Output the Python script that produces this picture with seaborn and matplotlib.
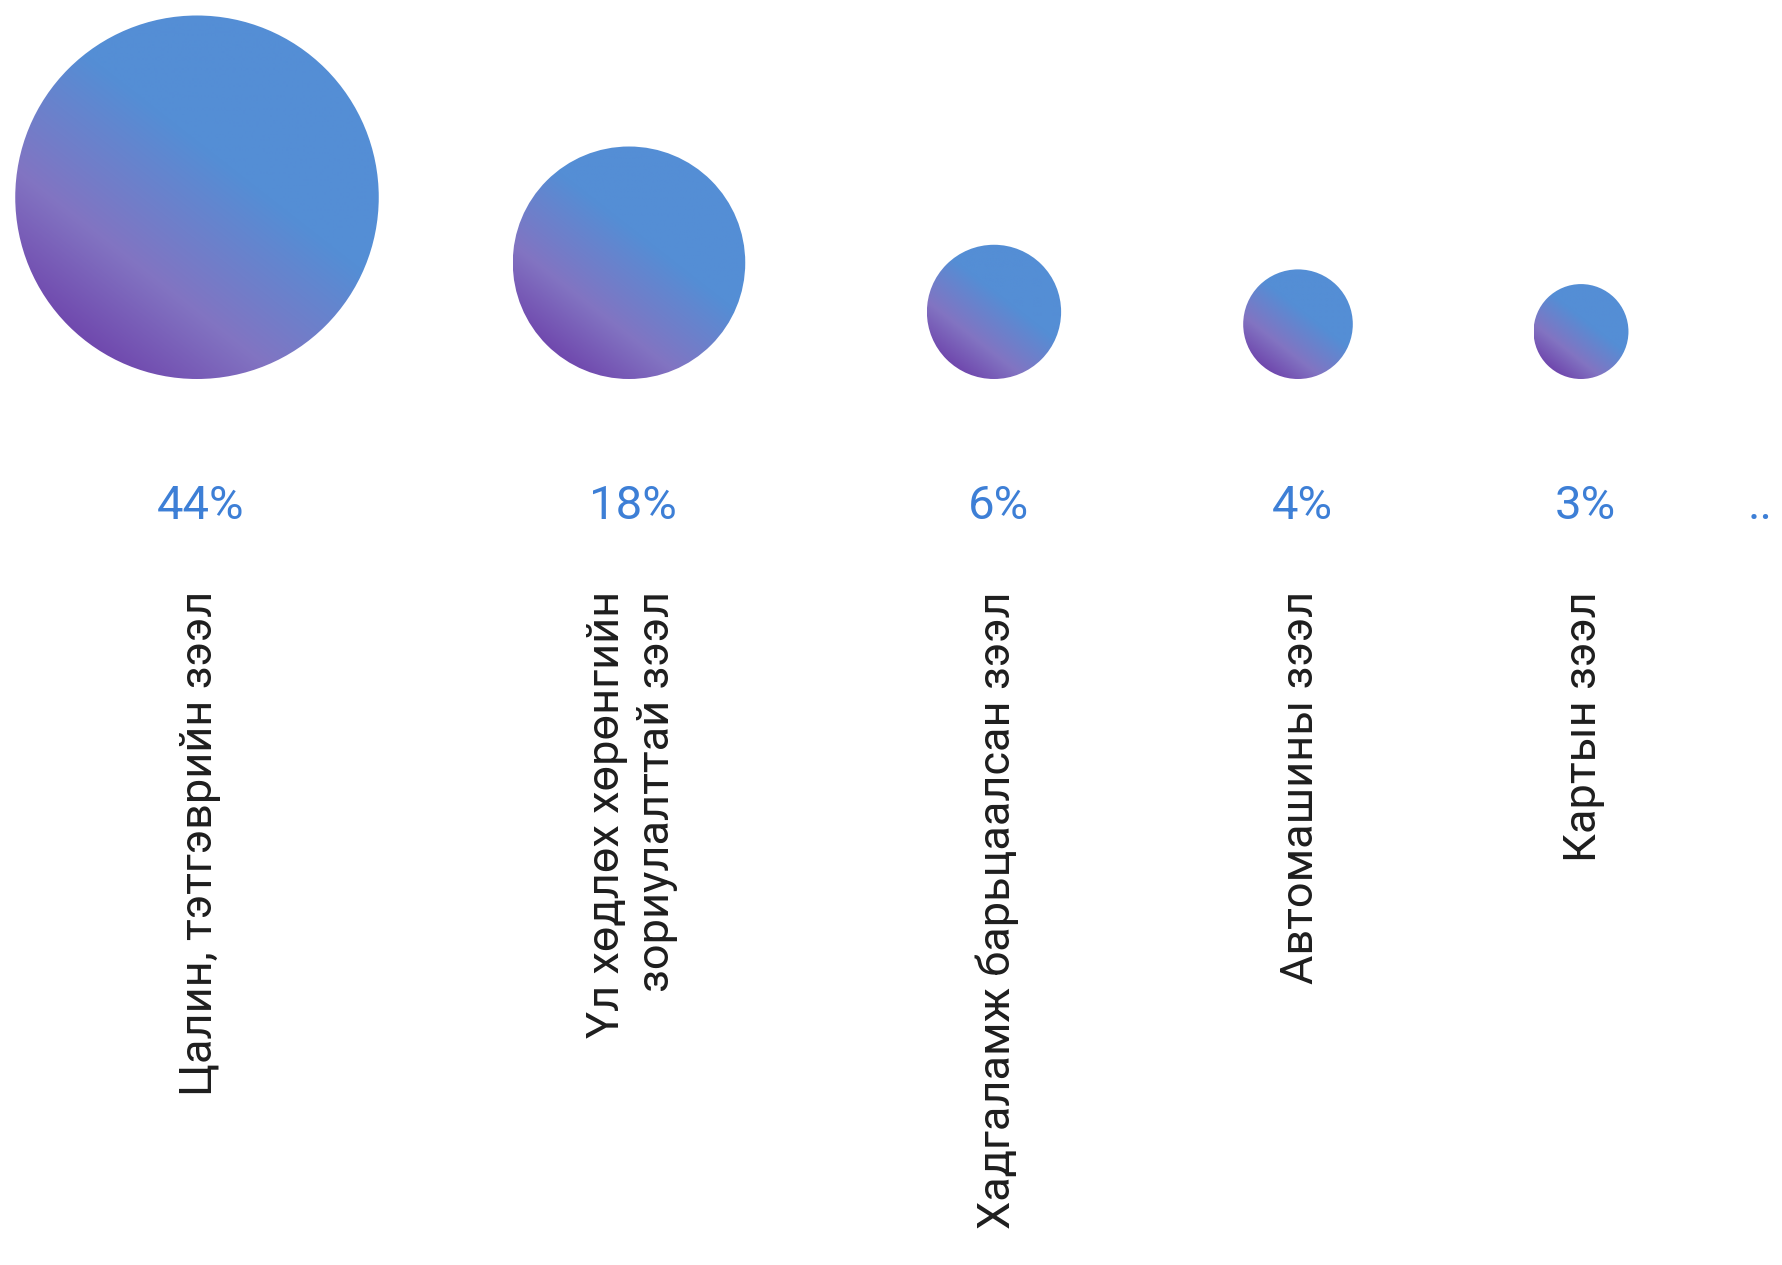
"""Bubble chart: loan portfolio shares by product type."""

import matplotlib

matplotlib.use("Agg")

import matplotlib.pyplot as plt
import numpy as np
import pandas as pd
import seaborn as sns
from matplotlib.colors import LinearSegmentedColormap
from matplotlib.patches import Circle

# data
categories = [
    "Цалин, тэтгэврийн зээл",
    "Үл хөдлөх хөрөнгийн\nзориулалттай зээл",
    "Хадгаламж барьцаалсан зээл",
    "Автомашины зээл",
    "Картын зээл",
]
shares = [44, 18, 6, 4, 3]
share_labels = ["44%", "18%", "6%", "4%", "3%"]

# layout (pixel space, 1 data unit = 1 px)
W, H = 1783, 1265
DPI = 100
x_pos = [197, 629, 994, 1298, 1581]
BOTTOM = 379          # circles sit on a common bottom line
R_SCALE = 27.4        # radius = R_SCALE * sqrt(share)
PCT_Y = 519
LABEL_TOP = 591
GRAD_ANGLE = np.deg2rad(52)

BLUE = "#548ed5"
PCT_COLOR = "#3d7fd6"
grad_cmap = LinearSegmentedColormap.from_list(
    "bubble",
    [(0.0, "#7049ae"), (0.25, "#8274c2"), (0.62, BLUE), (1.0, BLUE)],
)

radii = [R_SCALE * np.sqrt(v) for v in shares]
df = pd.DataFrame({
    "category": categories,
    "share": shares,
    "label": share_labels,
    "x": x_pos,
    "y": [BOTTOM - r for r in radii],
    "r": radii,
})

sns.set_theme(style="white")
plt.rcParams["font.family"] = ["Roboto", "DejaVu Sans"]

fig = plt.figure(figsize=(W / DPI, H / DPI), dpi=DPI)
ax = fig.add_axes([0, 0, 1, 1])

# solid base discs (marker size in pt^2)
df["s"] = (2 * (df["r"] - 1.0) * 72 / DPI) ** 2
sns.scatterplot(
    data=df, x="x", y="y", size="s", sizes=(df["s"].min(), df["s"].max()),
    color=BLUE, linewidth=0, legend=False, ax=ax, zorder=1,
)

# gradient fill clipped to each circle
for _, row in df.iterrows():
    cx, cy, r = row["x"], row["y"], row["r"]
    n = int(2 * r) + 2
    xs = np.linspace(-1, 1, n)
    gx, gy = np.meshgrid(xs, xs)           # gy grows downward
    t = gx * np.cos(GRAD_ANGLE) - gy * np.sin(GRAD_ANGLE)
    u = np.clip((t + 1) / 2, 0, 1)
    img = grad_cmap(u)
    circ = Circle((cx, cy), r, transform=ax.transData, facecolor="none", edgecolor="none")
    ax.add_patch(circ)
    im = ax.imshow(img, extent=(cx - r, cx + r, cy + r, cy - r), origin="upper",
                   interpolation="bilinear", zorder=2)
    im.set_clip_path(circ)

# percentage labels
for _, row in df.iterrows():
    ax.text(row["x"] + 4, PCT_Y, row["label"], ha="center", va="baseline",
            fontsize=34, fontweight="normal", color=PCT_COLOR)
ax.text(1748, PCT_Y, "..", ha="left", va="baseline", fontsize=34,
        fontweight="normal", color=PCT_COLOR)

# category labels (rotated)
for _, row in df.iterrows():
    ax.text(row["x"] + 3, LABEL_TOP, row["category"], rotation=90, ha="center", va="top",
            multialignment="right", fontsize=32.5, fontweight="normal",
            color="#1e1e1e", linespacing=1.24)

ax.set_xlim(0, W)
ax.set_ylim(H, 0)
ax.set_aspect("auto")
ax.axis("off")

fig.savefig("out.png", dpi=DPI)
plt.close(fig)
